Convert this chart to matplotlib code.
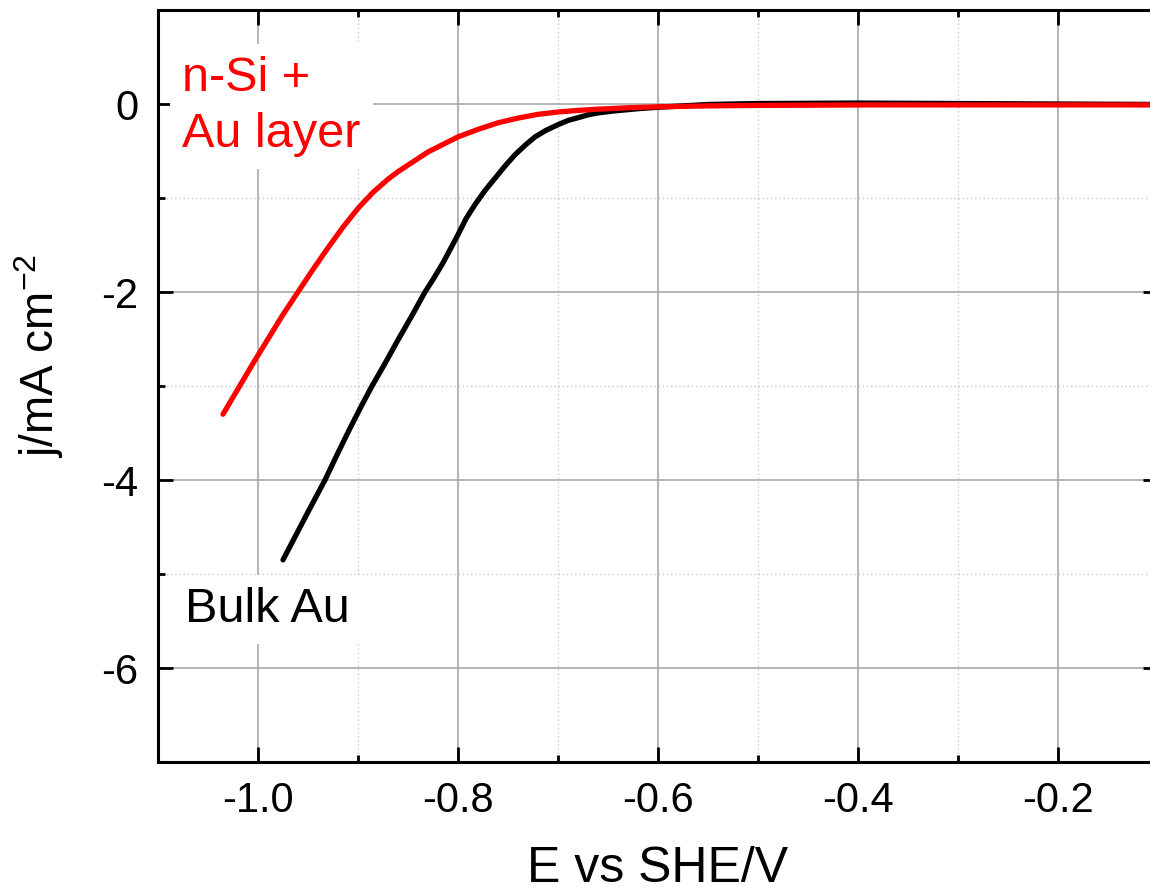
" polarisation curves: n-Si + Au layer vs bulk Au "
import matplotlib
matplotlib.use("Agg")
import matplotlib.pyplot as plt
from matplotlib.ticker import MultipleLocator

plt.rcParams.update({'font.family': 'Liberation Sans',
                     'mathtext.default': 'regular',
                     'axes.unicode_minus': False})

# n-Si + Au layer (red)
E_nsi = [-1.035, -1.02, -1.005, -0.99, -0.975, -0.96, -0.945, -0.93, -0.915,
         -0.90, -0.885, -0.87, -0.86, -0.85, -0.84, -0.83, -0.815, -0.80,
         -0.79, -0.78, -0.76, -0.74, -0.72, -0.70, -0.68, -0.66, -0.63,
         -0.60, -0.55, -0.50, -0.40, -0.30, -0.20, -0.10]
j_nsi = [-3.30, -3.03, -2.76, -2.50, -2.24, -2.00, -1.76, -1.53, -1.31,
         -1.11, -0.94, -0.80, -0.72, -0.65, -0.58, -0.51, -0.43, -0.35,
         -0.31, -0.27, -0.20, -0.15, -0.11, -0.085, -0.068, -0.055, -0.04,
         -0.03, -0.02, -0.015, -0.01, -0.01, -0.01, -0.01]

# bulk Au (black)
E_bulk = [-0.975, -0.95, -0.933, -0.92, -0.908, -0.897, -0.886, -0.873,
          -0.86, -0.846, -0.833, -0.824, -0.815, -0.808, -0.80, -0.792,
          -0.783, -0.773, -0.763, -0.753, -0.743, -0.733, -0.723, -0.712,
          -0.70, -0.69, -0.678, -0.67, -0.66, -0.645, -0.62, -0.60, -0.55,
          -0.50, -0.40, -0.30, -0.20, -0.10]
j_bulk = [-4.85, -4.34, -4.00, -3.71, -3.45, -3.22, -3.00, -2.76,
          -2.51, -2.25, -2.00, -1.85, -1.69, -1.55, -1.39, -1.22,
          -1.07, -0.92, -0.79, -0.66, -0.54, -0.44, -0.35, -0.28,
          -0.22, -0.175, -0.14, -0.115, -0.095, -0.075, -0.05, -0.035, -0.005,
          0.005, 0.01, 0.005, 0.0, -0.005]

fig = plt.figure(figsize=(11.5, 8.92), dpi=100)
ax = fig.add_axes([158/1150, 1 - 762/892, 1000/1150, 752/892])

ax.plot(E_bulk, j_bulk, color="k", lw=3.8, zorder=3,
        solid_joinstyle="round", solid_capstyle="round")
ax.plot(E_nsi, j_nsi, color="#ff0000", lw=3.8, zorder=4,
        solid_joinstyle="round", solid_capstyle="round")

ax.set_xlim(-1.1, -0.1)
ax.set_ylim(-7, 1)
ax.xaxis.set_minor_locator(MultipleLocator(0.1))
ax.yaxis.set_minor_locator(MultipleLocator(1))
ax.set_xticks([-1.0, -0.8, -0.6, -0.4, -0.2])
ax.set_xticklabels(["-1.0", "-0.8", "-0.6", "-0.4", "-0.2"])
ax.set_yticks([-6, -4, -2, 0])
ax.set_yticklabels(["-6", "-4", "-2", "0"])

ax.grid(which="major", color="#a8a8a8", lw=1.2, zorder=0)
ax.grid(which="minor", color="#c8c8c8", lw=1.0, ls=(0, (1, 2)), zorder=0)
ax.set_axisbelow(True)

ax.tick_params(which="both", direction="in", top=True, right=True,
               width=2, labelsize=30, colors="k")
ax.tick_params(which="major", length=11, pad=14)
ax.tick_params(which="minor", length=5)
for sp in ax.spines.values():
    sp.set_linewidth(2.2)

ax.set_xlabel("E vs SHE/V", fontsize=36, labelpad=18)
ax.set_ylabel("j/mA cm$^{-2}$", fontsize=33)
ax.yaxis.set_label_coords(-0.092, 0.54)

box = dict(boxstyle="square,pad=0.25", facecolor="white", edgecolor="none")
ax.text(-1.076, 0.51, "n-Si +\nAu layer", color="#ff0000", fontsize=35,
        va="top", ha="left", linespacing=1.3, bbox=box, zorder=5)
ax.text(-1.073, -5.51, "Bulk Au", color="k", fontsize=35,
        va="baseline", ha="left", bbox=box, zorder=5)

fig.savefig("out.png", dpi=100)
